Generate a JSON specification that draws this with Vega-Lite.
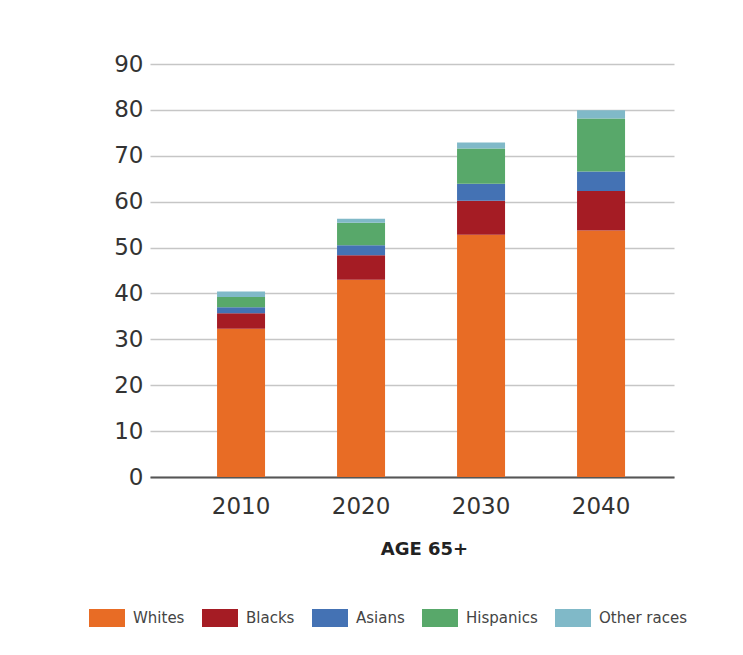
{
  "$schema": "https://vega.github.io/schema/vega-lite/v6.json",
  "width": 524,
  "height": 413,
  "autosize": {"type": "none"},
  "padding": {"left": 150, "top": 64, "right": 69, "bottom": 178},
  "background": "#ffffff",
  "data": {
    "values": [
      {"year": "2010", "race": "Whites", "value": 32.3},
      {"year": "2010", "race": "Blacks", "value": 3.4},
      {"year": "2010", "race": "Asians", "value": 1.3},
      {"year": "2010", "race": "Hispanics", "value": 2.2},
      {"year": "2010", "race": "Other races", "value": 1.2},
      {"year": "2020", "race": "Whites", "value": 43.0},
      {"year": "2020", "race": "Blacks", "value": 5.3},
      {"year": "2020", "race": "Asians", "value": 2.2},
      {"year": "2020", "race": "Hispanics", "value": 4.9},
      {"year": "2020", "race": "Other races", "value": 0.9},
      {"year": "2030", "race": "Whites", "value": 52.8},
      {"year": "2030", "race": "Blacks", "value": 7.4},
      {"year": "2030", "race": "Asians", "value": 3.7},
      {"year": "2030", "race": "Hispanics", "value": 7.7},
      {"year": "2030", "race": "Other races", "value": 1.3},
      {"year": "2040", "race": "Whites", "value": 53.7},
      {"year": "2040", "race": "Blacks", "value": 8.6},
      {"year": "2040", "race": "Asians", "value": 4.3},
      {"year": "2040", "race": "Hispanics", "value": 11.5},
      {"year": "2040", "race": "Other races", "value": 1.8}
    ]
  },
  "transform": [
    {"calculate": "indexof(['Whites','Blacks','Asians','Hispanics','Other races'], datum.race)", "as": "stackOrder"}
  ],
  "mark": {"type": "bar", "strokeWidth": 0},
  "encoding": {
    "x": {
      "field": "year",
      "type": "nominal",
      "scale": {"paddingInner": 0.6, "paddingOuter": 0.4833, "align": 0.578},
      "axis": {
        "title": "AGE 65+",
        "labelAngle": 0,
        "labelFont": "DejaVu Sans",
        "labelFontSize": 23,
        "labelColor": "#333333",
        "labelPadding": 18,
        "ticks": false,
        "domain": true,
        "domainColor": "#555555",
        "domainWidth": 2,
        "grid": false,
        "titleFont": "DejaVu Sans",
        "titleFontSize": 18,
        "titleFontWeight": "bold",
        "titleColor": "#222222",
        "titlePadding": 22,
        "titleX": 274
      }
    },
    "y": {
      "field": "value",
      "type": "quantitative",
      "stack": "zero",
      "scale": {"domain": [0, 90], "nice": false},
      "axis": {
        "title": null,
        "values": [0, 10, 20, 30, 40, 50, 60, 70, 80, 90],
        "labelFont": "DejaVu Sans",
        "labelFontSize": 23,
        "labelColor": "#333333",
        "labelPadding": 7,
        "ticks": false,
        "domain": false,
        "grid": true,
        "gridColor": "#c6c6c6",
        "gridWidth": 1.5
      }
    },
    "order": {"field": "stackOrder", "type": "quantitative", "sort": "ascending"},
    "color": {
      "field": "race",
      "type": "nominal",
      "sort": ["Whites", "Blacks", "Asians", "Hispanics", "Other races"],
      "scale": {
        "domain": ["Whites", "Blacks", "Asians", "Hispanics", "Other races"],
        "range": ["#E86C25", "#A51C24", "#4472B4", "#58A86A", "#80B9C8"]
      },
      "legend": {
        "title": null,
        "orient": "none",
        "legendX": -61,
        "legendY": 536,
        "direction": "horizontal",
        "columns": 5,
        "gridAlign": "none",
        "columnPadding": 17,
        "padding": 0,
        "symbolType": "M-1,-0.5L1,-0.5L1,0.5L-1,0.5Z",
        "symbolSize": 1296,
        "symbolStrokeWidth": 0,
        "symbolOpacity": 1,
        "labelFont": "DejaVu Sans",
        "labelFontSize": 15,
        "labelColor": "#444444",
        "labelOffset": 8
      }
    }
  },
  "config": {
    "view": {"stroke": null}
  }
}
